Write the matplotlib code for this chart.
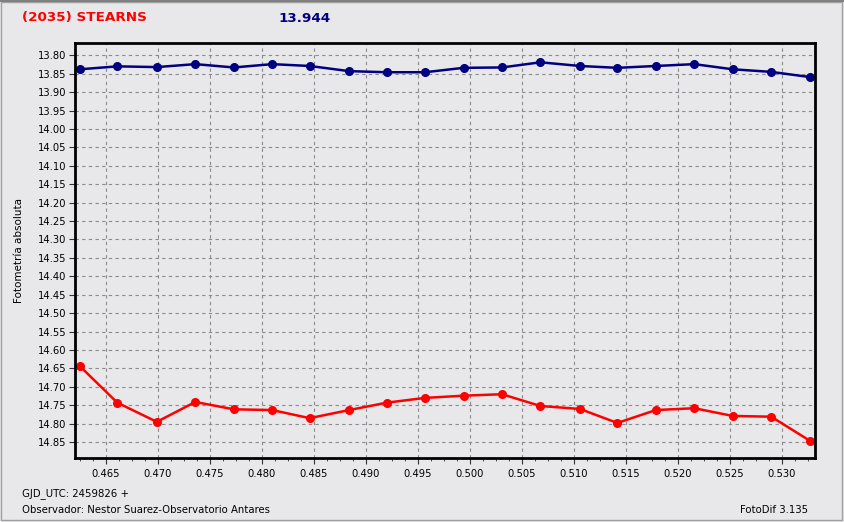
import matplotlib.pyplot as plt
from matplotlib.ticker import MultipleLocator, FormatStrFormatter
from matplotlib.patches import Rectangle

# fracciones de dia (GJD_UTC - 2459826)
jd = [0.4625, 0.4661, 0.4699, 0.4736, 0.4773, 0.4810, 0.4846, 0.4884, 0.4920, 0.4957,
      0.4994, 0.5031, 0.5068, 0.5106, 0.5142, 0.5179, 0.5216, 0.5253, 0.5290, 0.5327]

# estrella de comparacion (azul)
comp_mag = [13.838, 13.830, 13.832, 13.824, 13.833, 13.824, 13.829, 13.843, 13.846, 13.846,
            13.834, 13.833, 13.819, 13.829, 13.834, 13.829, 13.824, 13.838, 13.845, 13.859]

# asteroide (rojo)
ast_mag = [14.644, 14.743, 14.795, 14.741, 14.761, 14.763, 14.785, 14.763, 14.743, 14.730,
           14.724, 14.720, 14.752, 14.760, 14.798, 14.763, 14.758, 14.779, 14.781, 14.846]

bg = '#E8E8EA'
fig = plt.figure(figsize=(8.44, 5.22), dpi=100, facecolor=bg)
ax = fig.add_axes([0.0885, 0.122, 0.877, 0.795], facecolor=bg)

ax.plot(jd, comp_mag, color='#000080', lw=1.8, marker='o', ms=5.5)
ax.plot(jd, ast_mag, color='#FF0000', lw=1.8, marker='o', ms=5.5)

ax.set_xlim(0.4620, 0.5332)
ax.set_ylim(14.894, 13.7675)

ax.xaxis.set_major_locator(MultipleLocator(0.005))
ax.xaxis.set_minor_locator(MultipleLocator(0.00125))
ax.xaxis.set_major_formatter(FormatStrFormatter('%.3f'))
ax.yaxis.set_major_locator(MultipleLocator(0.05))
ax.yaxis.set_major_formatter(FormatStrFormatter('%.2f'))

ax.grid(True, which='major', color='#8A8A8A', ls=(0, (3, 3)), lw=0.8)
ax.tick_params(axis='both', which='major', labelsize=7.2, length=4, color='#333333')
ax.tick_params(axis='x', which='minor', length=2.5, color='#333333')
ax.tick_params(axis='y', which='major', pad=2)
for s in ax.spines.values():
    s.set_linewidth(2)
    s.set_color('black')

ax.set_ylabel('Fotometría absoluta', fontsize=7.5, labelpad=10)
ax.yaxis.set_label_coords(-0.068, 0.5)

fig.text(22 / 844, 1 - 18 / 522, '(2035) STEARNS', color='#FF0000', fontsize=9.7,
         fontweight='bold', va='center', ha='left')
fig.text(304 / 844, 1 - 18 / 522, '13.944', color='#000080', fontsize=9.7,
         fontweight='bold', va='center', ha='center')

narrow = ['Liberation Sans Narrow', 'DejaVu Sans']
fig.text(22 / 844, 1 - 494 / 522, 'GJD_UTC: 2459826 +', fontsize=7.3, family=narrow,
         va='center', ha='left')
fig.text(22 / 844, 1 - 510 / 522, 'Observador: Nestor Suarez-Observatorio Antares',
         fontsize=7.3, family=narrow, va='center', ha='left')
fig.text(808 / 844, 1 - 510 / 522, 'FotoDif 3.135', fontsize=7.3, family=narrow,
         va='center', ha='right')

# marco de la ventana
fig.patches.append(Rectangle((0.001, 0.003), 0.997, 0.993, transform=fig.transFigure,
                             fill=False, edgecolor='#A0A0A0', lw=1))
fig.patches.append(Rectangle((0, 1 - 2 / 522), 1, 2 / 522, transform=fig.transFigure,
                             color='#808080', lw=0))

fig.savefig('out.png', dpi=100, facecolor=bg)
